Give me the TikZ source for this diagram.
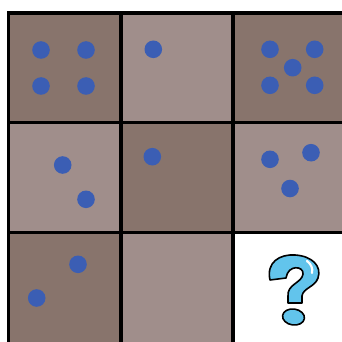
\documentclass[tikz,border=0pt]{standalone}
\definecolor{darkcell}{RGB}{136,116,108}
\definecolor{lightcell}{RGB}{160,142,139}
\definecolor{dotblue}{RGB}{59,94,180}
\definecolor{qcyan}{RGB}{98,196,236}
\tikzset{
  dotmark/.style={fill=dotblue, draw=none},
  gridline/.style={line width=3.6pt, draw=black},
}
\begin{document}
\begin{tikzpicture}[x=1pt,y=-1pt]
\useasboundingbox (0,0) rectangle (342,342);
\clip (0,0) rectangle (342,342);
\fill[white] (0,0) rectangle (342,342);
% cells
\fill[darkcell]  (8.5,13) rectangle (121,122.5);
\fill[lightcell] (121,13) rectangle (233,122.5);
\fill[darkcell]  (233,13) rectangle (346,122.5);
\fill[lightcell] (8.5,122.5) rectangle (121,232.5);
\fill[darkcell]  (121,122.5) rectangle (233,232.5);
\fill[lightcell] (233,122.5) rectangle (346,232.5);
\fill[darkcell]  (8.5,232.5) rectangle (121,346);
\fill[lightcell] (121,232.5) rectangle (233,346);
\fill[white]     (233,232.5) rectangle (346,346);
% grid lines
\draw[gridline] (8.5,13) -- (346,13);
\draw[gridline] (8.5,122.5) -- (346,122.5);
\draw[gridline] (8.5,232.5) -- (346,232.5);
\draw[gridline] (8.5,11.2) -- (8.5,346);
\draw[gridline] (121,11.2) -- (121,346);
\draw[gridline] (233,11.2) -- (233,346);
% dots
\foreach \x/\y in {41/50, 86/50, 41/86, 86/86,
                   153.3/49.3,
                   270/49.3, 314.7/49.3, 292.7/67.7, 270/85.3, 314.7/85.3,
                   62.7/165, 86/199.3,
                   152.3/156.7,
                   270/159.3, 311/152.7, 290/188.5,
                   78/264.3, 36.7/298}
  \fill[dotmark] (\x,\y) circle (8.8);
% question mark
\draw[fill=qcyan, line width=1.6pt, line join=round]
  (270,280) .. controls (266,262) and (280,254) .. (295,255)
  .. controls (312,256) and (322,266) .. (318,278)
  .. controls (315,287) and (303,288) .. (302,296)
  -- (302,303) -- (288,303) -- (288,296)
  .. controls (287,284) and (302,283) .. (303,274)
  .. controls (304,266) and (288,264) .. (286,278)
  -- cycle;
\draw[white, line width=2.2pt, line cap=round]
  (307,261) .. controls (311,264) and (313,268) .. (312,273);
\draw[fill=qcyan, line width=1.6pt, rotate around={-8:(293.5,317)}]
  (293.5,317) ellipse (11 and 8);
\end{tikzpicture}
\end{document}
